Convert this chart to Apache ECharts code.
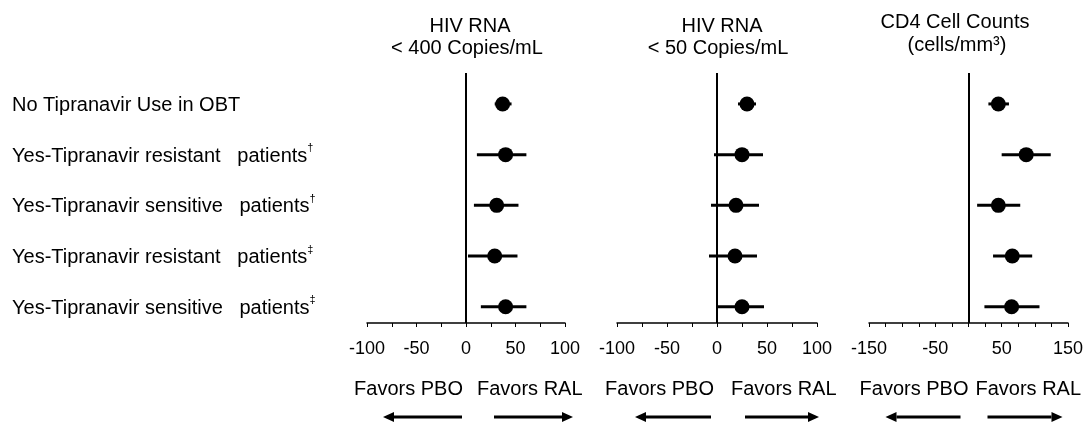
<!DOCTYPE html>
<html>
<head>
<meta charset="utf-8">
<script src="https://cdn.jsdelivr.net/npm/echarts@6/dist/echarts.min.js"></script>
<style>
  html, body { margin: 0; padding: 0; background: #fff; }
  #chart { width: 1091px; height: 430px; }
</style>
</head>
<body>
<div id="chart"></div>
<script>
// Subgroups (rows, top to bottom) and their footnote marks
const subgroups = [
  'No Tipranavir Use in OBT',
  'Yes-Tipranavir resistant   patients',
  'Yes-Tipranavir sensitive   patients',
  'Yes-Tipranavir resistant   patients',
  'Yes-Tipranavir sensitive   patients'
];
const footnoteMarks = ['', '\u2020', '\u2020', '\u2021', '\u2021'];

// HIV RNA < 400 copies/mL: difference (RAL - PBO) with 95% CI
const rna400Est = [37, 40, 31, 29, 40];
const rna400Low = [29, 11, 8, 2, 15];
const rna400High = [46, 61, 53, 52, 61];

// HIV RNA < 50 copies/mL
const rna50Est = [30, 25, 19, 18, 25];
const rna50Low = [21, -3, -6, -8, -1];
const rna50High = [39, 46, 42, 40, 47];

// CD4 cell count change (cells/mm3)
const cd4Est = [45, 87, 45, 66, 65];
const cd4Low = [30, 50, 13, 37, 24];
const cd4High = [61, 124, 78, 96, 107];

// Axis ranges and tick labels
const rnaRange = [-100, 100];
const cd4Range = [-150, 150];
const rnaTickLabels = [-100, -50, 0, 50, 100];
const cd4TickLabels = [-150, -50, 50, 150];

const panelTitles = [
  ['HIV RNA', '< 400 Copies/mL'],
  ['HIV RNA', '< 50 Copies/mL'],
  ['CD4 Cell Counts', '(cells/mm\u00B3)']
];

const FONT = '"Liberation Sans", Arial, sans-serif';
const INK = '#000';

const rowIdx = subgroups.map((_, i) => i);
const rowMin = -0.61, rowMax = 4.32;

const grids = [
  { left: 367, width: 198, top: 73, height: 250 },
  { left: 617, width: 200, top: 73, height: 250 },
  { left: 869, width: 199, top: 73, height: 250 }
];

function xAxisFor(gi, range, labels) {
  return {
    type: 'value', gridIndex: gi, min: range[0], max: range[1], interval: 25,
    axisLine: { show: true, onZero: false, lineStyle: { color: INK, width: 1.5 } },
    axisTick: { show: true, length: 4, lineStyle: { color: INK, width: 1 } },
    splitLine: { show: false },
    axisLabel: {
      margin: 17, color: INK, fontSize: 18, fontFamily: FONT,
      formatter: v => labels.indexOf(v) >= 0 ? String(v) : ''
    }
  };
}

function yAxisFor(gi, withLabels) {
  const ax = {
    type: 'value', gridIndex: gi, min: rowMin, max: rowMax, inverse: true,
    axisLine: { show: false, onZero: false }, axisTick: { show: false },
    splitLine: { show: false },
    axisLabel: { show: false }
  };
  if (withLabels) {
    ax.axisLabel = {
      show: true, customValues: rowIdx, align: 'left', margin: 355,
      color: INK, fontSize: 20, fontFamily: FONT,
      formatter: v => {
        const i = Math.round(v);
        return '{t|' + subgroups[i] + '}' + (footnoteMarks[i] ? '{s|' + footnoteMarks[i] + '}' : '');
      },
      rich: {
        t: { fontSize: 20, fontFamily: FONT, color: INK, lineHeight: 24, padding: [3, 0, 0, 0] },
        s: { fontSize: 11, fontFamily: FONT, color: INK, verticalAlign: 'top', lineHeight: 12 }
      }
    };
  }
  return ax;
}

function ciSeries(gi, low, high) {
  return {
    type: 'custom', xAxisIndex: gi, yAxisIndex: gi,
    data: rowIdx.map(i => [low[i], high[i], i]),
    encode: { x: [0, 1], y: 2 },
    renderItem: (params, api) => {
      const a = api.coord([api.value(0), api.value(2)]);
      const b = api.coord([api.value(1), api.value(2)]);
      return {
        type: 'line',
        shape: { x1: a[0], y1: a[1], x2: b[0], y2: b[1] },
        style: { stroke: INK, lineWidth: 3 }
      };
    },
    z: 2
  };
}

function pointSeries(gi, est) {
  return {
    type: 'scatter', xAxisIndex: gi, yAxisIndex: gi,
    data: rowIdx.map(i => [est[i], i]),
    symbol: 'circle', symbolSize: 15,
    itemStyle: { color: INK, opacity: 1 },
    markLine: {
      silent: true, symbol: 'none', label: { show: false },
      lineStyle: { color: INK, width: 2, type: 'solid' },
      data: [{ xAxis: 0 }]
    },
    z: 3
  };
}

const titleLines = [
  { text: panelTitles[0][0], left: 470, top: 16 },
  { text: panelTitles[0][1], left: 467, top: 38 },
  { text: panelTitles[1][0], left: 722, top: 16 },
  { text: panelTitles[1][1], left: 718, top: 38 },
  { text: panelTitles[2][0], left: 955, top: 12 },
  { text: panelTitles[2][1], left: 957, top: 35 }
].map(t => ({
  text: t.text, left: t.left, top: t.top, textAlign: 'center', padding: 0,
  textStyle: { fontSize: 20, fontWeight: 'normal', fontFamily: FONT, color: INK }
}));

const chart = echarts.init(document.getElementById('chart'), null, { renderer: 'canvas' });
chart.setOption({
  animation: false,
  backgroundColor: '#fff',
  title: titleLines,
  grid: grids,
  xAxis: [
    xAxisFor(0, rnaRange, rnaTickLabels),
    xAxisFor(1, rnaRange, rnaTickLabels),
    xAxisFor(2, cd4Range, cd4TickLabels)
  ],
  yAxis: [yAxisFor(0, true), yAxisFor(1, false), yAxisFor(2, false)],
  series: [
    ciSeries(0, rna400Low, rna400High), pointSeries(0, rna400Est),
    ciSeries(1, rna50Low, rna50High), pointSeries(1, rna50Est),
    ciSeries(2, cd4Low, cd4High), pointSeries(2, cd4Est)
  ]
});

// Direction captions and arrows under each panel, placed relative to the zero line
const captionY = 389, arrowY = 417;
const captionLayout = [
  { pboEnd: -3, ralStart: 11, leftArrow: [-83, -4], rightArrow: [28, 107] },
  { pboEnd: -3, ralStart: 14, leftArrow: [-82, -6], rightArrow: [28, 102] },
  { pboEnd: 0, ralStart: 7, leftArrow: [-83, -8], rightArrow: [19, 94] }
];

function arrow(x1, x2, y, headLeft) {
  const head = 11, half = 5;
  const tip = headLeft ? x1 : x2;
  const base = headLeft ? x1 + head : x2 - head;
  return [
    { type: 'line', shape: { x1: headLeft ? base : x1, y1: y, x2: headLeft ? x2 : base, y2: y },
      style: { stroke: INK, lineWidth: 3 } },
    { type: 'polygon', shape: { points: [[tip, y], [base, y - half], [base, y + half]] },
      style: { fill: INK } }
  ];
}

const graphics = [];
captionLayout.forEach((c, gi) => {
  const zx = chart.convertToPixel({ gridIndex: gi }, [0, 0])[0];
  graphics.push({ type: 'text', x: zx + c.pboEnd, y: captionY,
    style: { text: 'Favors PBO', fontSize: 20, fontFamily: FONT, fill: INK, textAlign: 'right', textVerticalAlign: 'middle' } });
  graphics.push({ type: 'text', x: zx + c.ralStart, y: captionY,
    style: { text: 'Favors RAL', fontSize: 20, fontFamily: FONT, fill: INK, textAlign: 'left', textVerticalAlign: 'middle' } });
  graphics.push(...arrow(zx + c.leftArrow[0], zx + c.leftArrow[1], arrowY, true));
  graphics.push(...arrow(zx + c.rightArrow[0], zx + c.rightArrow[1], arrowY, false));
});
chart.setOption({ graphic: graphics });
</script>
</body>
</html>
